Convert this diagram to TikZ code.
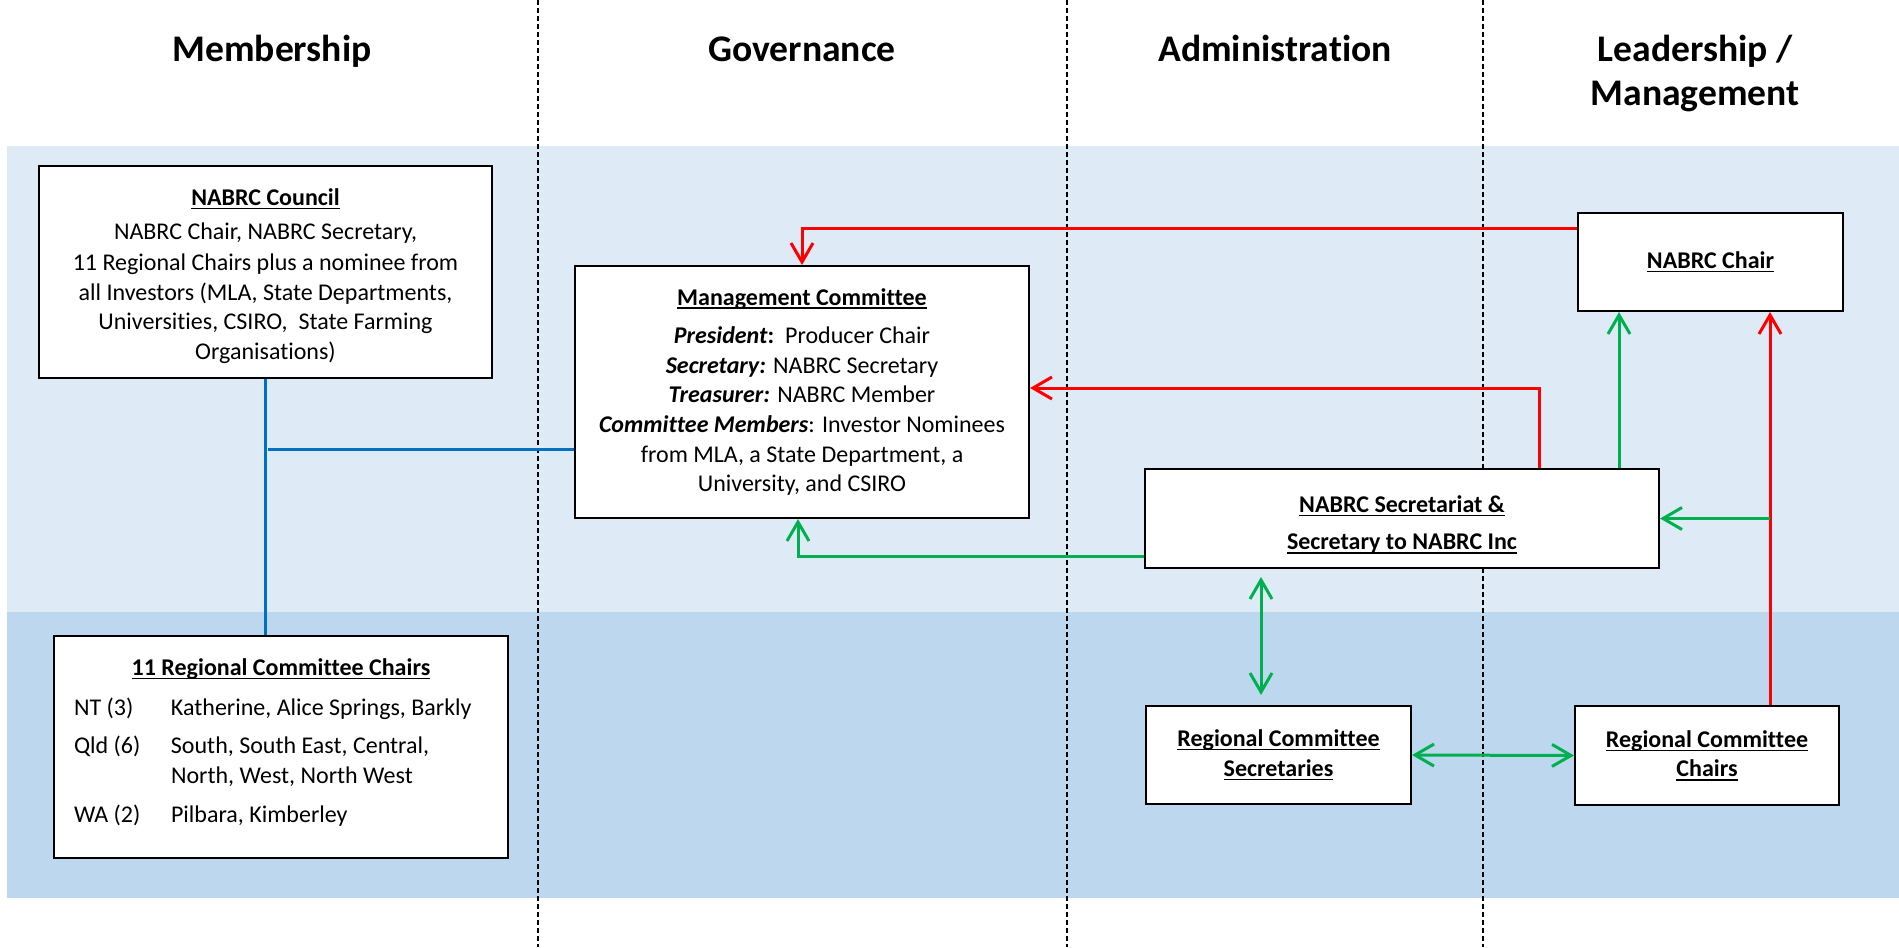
\documentclass[tikz,border=0pt]{standalone}
\usepackage{fontspec}
\setmainfont{Carlito}[Ligatures={NoCommon}]
\usetikzlibrary{arrows.meta}

\definecolor{bandlight}{HTML}{DEEBF7}
\definecolor{banddark}{HTML}{BDD7EE}
\definecolor{nabred}{HTML}{FF0000}
\definecolor{nabgreen}{HTML}{00B050}
\definecolor{nabblue}{HTML}{0070C0}

\newcommand{\boxtitle}[1]{\textbf{\setbox0\hbox{#1}\rlap{\rule[-1.8pt]{\wd0}{0.7pt}}\box0}}

\begin{document}
\begin{tikzpicture}[x=0.5pt, y=-0.5pt,
	>={Straight Barb[length=9.5pt,width=11pt]},
	box/.style={draw=black, line width=1pt, fill=white, align=center, inner sep=2pt, font=\fontsize{12}{14.8}\selectfont},
	heading/.style={anchor=base, font=\fontsize{18.8}{21.5}\selectfont\bfseries},
	divider/.style={line width=1pt, dash pattern=on 2.5pt off 1.5pt},
	redlink/.style={draw=nabred, line width=1.5pt, ->},
	greenlink/.style={draw=nabgreen, line width=1.5pt, ->},
	bluelink/.style={draw=nabblue, line width=1.5pt}]
	\useasboundingbox (0,0) rectangle (1899,947);
	
	\fill[bandlight] (7,146) rectangle (1899,612);
	\fill[banddark] (7,612) rectangle (1899,898);
	
	\draw[divider] (538,0) -- (538,947);
	\draw[divider] (1067,0) -- (1067,947);
	\draw[divider] (1483,0) -- (1483,947);
	
	\node[heading] (hmember) at (272,62) {Membership};
	\node[heading] (hgovern) at (802,62) {Governance};
	\node[heading] (hadmin) at (1275,62) {Administration};
	\node[heading] (hlead) at (1695,62) {Leadership /};
	\node[heading] (hmanage) at (1695,105) {Management};
	
	\node[box, minimum width=226.5pt, minimum height=106pt] (council) at (265.5,272)
		{\rule{0pt}{12.5pt}\boxtitle{NABRC Council}\\[2pt]
		NABRC Chair, NABRC Secretary,\\[1pt]
		11 Regional Chairs plus a nominee from\\
		all Investors (MLA, State Departments,\\
		Universities, CSIRO,\ \ State Farming\\
		Organisations)};
	\node[box, minimum width=227pt, minimum height=111pt] (rchairs) at (281,747)
		{\begin{tabular}{@{}p{48.5pt}@{}p{158.5pt}@{}}
		\multicolumn{2}{@{}c@{}}{\boxtitle{11 Regional Committee Chairs}}\\[5.2pt]
		NT (3) & Katherine, Alice Springs, Barkly\\[4pt]
		Qld (6) & South, South East, Central,\\
		 & North, West, North West\\[4.7pt]
		WA (2) & Pilbara, Kimberley\\[4pt]
		\end{tabular}};
	\node[box, minimum width=227pt, minimum height=126pt] (mgmt) at (802,392)
		{\boxtitle{Management Committee}\\[4.5pt]
		\textbf{\textit{President}:}\ \ Producer Chair\\
		\textbf{\textit{Secretary:}} NABRC Secretary\\
		\textbf{\textit{Treasurer:}} NABRC Member\\
		\textbf{\textit{Committee Members}}: Investor Nominees\\
		from MLA, a State Department, a\\
		University, and CSIRO};
	\node[box, minimum width=132.5pt, minimum height=49pt] (chair) at (1710.5,262)
		{\boxtitle{NABRC Chair}};
	\node[box, minimum width=257pt, minimum height=49.5pt] (sec) at (1402,518.5)
		{\rule{0pt}{14.5pt}\boxtitle{NABRC Secretariat \&}\\[4pt]
		\boxtitle{Secretary to NABRC Inc}};
	\node[box, minimum width=132.5pt, minimum height=49pt] (rcsec) at (1278.5,755)
		{\boxtitle{Regional Committee}\\
		\boxtitle{Secretaries}};
	\node[box, minimum width=132pt, minimum height=49.5pt] (rcchair) at (1707,755.5)
		{\boxtitle{Regional Committee}\\
		\boxtitle{Chairs}};
	
	\coordinate (bj) at (268,449);
	\coordinate (rt) at (1578,228);
	\coordinate (rs) at (1539,388);
	\coordinate (gx) at (1619,0);
	\coordinate (rx) at (1770,0);
	\coordinate (gl) at (798,556);
	\coordinate (vt) at (1261,577);
	\coordinate (vb) at (1261,695);
	
	\draw[bluelink] (council.south) -- (council.south |- rchairs.north);
	\draw[bluelink] (bj) -- (bj -| mgmt.west);
	
	\draw[redlink] (chair.west |- rt) -| (mgmt.north);
	\draw[redlink] (sec.north -| rs) -- (rs) -- (rs -| mgmt.east);
	\draw[redlink] (rcchair.north -| rx) -- (chair.south -| rx);
	
	\draw[greenlink] (sec.north -| gx) -- (chair.south -| gx);
	\draw[greenlink] (sec.east -| rx) -- (sec.east);
	\draw[greenlink] (sec.west |- gl) -- (gl) -- (gl |- mgmt.south);
	\draw[greenlink, <->] (vt) -- (vb);
	\draw[greenlink, <->] (rcsec.east) -- (rcchair.west);
\end{tikzpicture}
\end{document}
